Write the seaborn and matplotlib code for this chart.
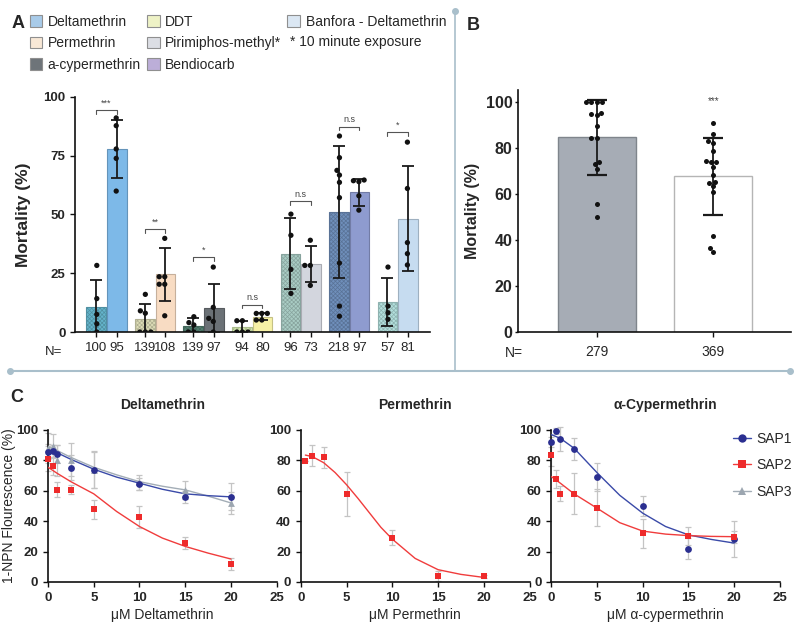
import matplotlib

matplotlib.use("Agg")
import matplotlib.pyplot as plt
import matplotlib.colors as mcolors
from matplotlib.lines import Line2D
from matplotlib.patches import Patch
import pandas as pd
import seaborn as sns

# --- Panel A: mortality per insecticide, two populations (hatched / plain bars) ---
insecticides = ["Deltamethrin", "Permethrin", "a-cypermethrin", "DDT",
                "Pirimiphos-methyl*", "Bendiocarb", "Banfora - Deltamethrin"]
populations = ["hatched", "plain"]
a_mean_hatched = [10.6, 5.4, 2.5, 2.1, 33.3, 51.0, 12.9]
a_sd_hatched = [11.4, 6.5, 3.3, 2.7, 15.0, 28.2, 10.2]
a_mean_plain = [77.8, 24.5, 10.3, 6.4, 28.8, 59.3, 48.2]
a_sd_plain = [12.2, 11.3, 10.2, 1.5, 7.7, 5.8, 22.2]
a_n_hatched = [100, 139, 139, 94, 96, 218, 57]
a_n_plain = [95, 108, 97, 80, 73, 97, 81]
a_dots_hatched = [
    [28.3, 14.2, 7.5, 3.5, 0],
    [16.0, 9.0, 8.0, 0, 0, 0],
    [6.5, 4.0, 3.0, 0, 0],
    [4.8, 4.8, 0, 0, 0],
    [50.1, 41.1, 26.6, 16.4],
    [83.3, 74.1, 68.7, 66.7, 63.6, 57.1, 29.3, 11.0, 6.7],
    [27.6, 11.0, 8.2, 5.4],
]
a_dots_plain = [
    [91.0, 87.7, 77.8, 73.8, 59.9],
    [39.8, 23.5, 23.5, 20.3, 20.3, 6.9],
    [27.6, 10.5, 5.8, 4.5, 0],
    [7.9, 7.9, 7.9, 5.1, 5.1],
    [39.0, 28.3, 28.3, 19.8],
    [64.6, 64.3, 63.9, 57.9, 51.8],
    [80.7, 61.0, 38.0, 33.3, 28.5],
]
a_sig = ["***", "**", "*", "n.s", "n.s", "n.s", "*"]
a_sig_y = [94.3, 43.8, 31.7, 11.6, 55.7, 87.3, 85.0]

# --- Panel B ---
b_n = ["279", "369"]
b_mean = [84.4, 67.5]
b_sd = [16.3, 16.6]
b_dots = [
    [100, 100, 100, 100, 94.6, 95.2, 94.2, 89.6, 84.2, 84.2, 73.7, 72.8, 70.8, 55.6, 50.0],
    [90.6, 85.8, 81.9, 82.7, 78.6, 73.7, 74.3, 73.7, 71.8, 68.2, 65.2, 64.5, 63.2,
     60.7, 41.8, 36.4, 34.7],
]

# --- Panel C: 1-NPN displacement ---
conc = [0, 0.5, 1, 2.5, 5, 10, 15, 20]
conc_perm = [0.5, 1.2, 2.5, 5, 10, 15, 20]
fit_x = [0, 1, 2.5, 5, 7.5, 10, 12.5, 15, 17.5, 20]
fit_x_perm = [0.5, 1.25, 2.5, 3.75, 5, 6.25, 7.5, 8.75, 10, 12.5, 15, 17.5, 20]

delta_sap1 = [85.8, 86.2, 84.2, 75.3, 73.7, 64.6, 55.8, 56.2]
delta_sap1_sd = [5, 4, 6, 8, 12, 4, 4, 9]
delta_sap2 = [81.2, 76.4, 60.6, 60.6, 47.7, 42.7, 25.8, 11.8]
delta_sap2_sd = [8, 6, 5, 3, 6, 7, 4, 4]
delta_sap3 = [88.0, 89.5, 80.0, 80.5, 74.0, 65.5, 60.5, 52.0]
delta_sap3_sd = [10, 8, 10, 11, 12, 5, 6, 7]
delta_fit1 = [87.0, 85.0, 80.7, 74.2, 69.0, 65.0, 61.0, 58.0, 56.8, 56.0]
delta_fit2 = [75.5, 71.5, 66.0, 58.0, 46.4, 36.5, 28.9, 23.4, 19.0, 15.1]
delta_fit3 = [89.0, 86.5, 82.0, 75.5, 70.5, 66.0, 63.0, 60.6, 56.5, 52.0]

perm_sap2 = [79.6, 83.2, 82.1, 57.8, 29.1, 3.9, 3.7]
perm_sap2_sd = [0, 6.7, 7, 14.3, 5, 3, 1]
perm_fit2 = [83.5, 82.5, 78.5, 72.0, 64.0, 55.0, 45.5, 36.0, 28.2, 15.5, 8.1, 5.0, 3.0]

cyp_sap1 = [92.1, 99.6, 94.1, 87.5, 69.1, 50.1, 21.9, 28.2]
cyp_sap1_sd = [3, 2, 8, 7.4, 9, 6.6, 7, 12]
cyp_sap2 = [83.6, 67.8, 58.2, 58.2, 49.0, 31.9, 30.4, 29.5]
cyp_sap2_sd = [7, 6, 5, 13.7, 12, 9.5, 6, 4]
cyp_fit1 = [97.0, 94.5, 88.0, 72.0, 57.0, 45.3, 36.5, 31.0, 28.0, 25.6]
cyp_fit2 = [69.4, 65.0, 58.0, 48.6, 39.0, 33.5, 31.5, 30.5, 30.0, 29.8]

# colours
hatched_colors = ["#64b4cb", "#dcdcb6", "#537f70", "#d6ebb0", "#a9ccc4", "#6f8fbb", "#b2dfdc"]
plain_colors = ["#7db9e8", "#f8dcc3", "#6b7176", "#f6f1a6", "#d3d6de", "#8e9bcf", "#c6dcf0"]
legend_colors = ["#a8cbe9", "#f8e8d6", "#6e7479", "#eef2c6", "#dcdee4", "#bcaed8", "#dbe7f3"]
sap_colors = {"SAP1": "#2b2f90", "SAP2": "#ee2b2b", "SAP3": "#9ca6b0"}
fit_colors = {"SAP1": "#3a4aa8", "SAP2": "#f03c3c", "SAP3": "#a3adb6"}
sap_markers = {"SAP1": "o", "SAP2": "s", "SAP3": "^"}
err_color = "#c4c4c4"
sep_color = "#a9bfcb"


def darker(c, f=0.78):
    r, g, b = mcolors.to_rgb(c)
    return (r * f, g * f, b * f)


def style_axis(ax, size):
    for s in ("left", "bottom"):
        ax.spines[s].set_linewidth(1.2)
        ax.spines[s].set_color("#111111")
    ax.tick_params(axis="both", direction="out", length=3.5, width=1.0, color="#111111",
                   labelsize=size)


def panel_c(ax, title, xlabel, points, fits, fx):
    for name, (x, y, sd) in points.items():
        ax.errorbar(x, y, yerr=sd, fmt="none", ecolor=err_color, elinewidth=0.9,
                    capsize=2.2, capthick=0.9, zorder=2, clip_on=False)
    for name, fy in fits.items():
        sns.lineplot(x=fx, y=fy, color=fit_colors[name], lw=1.0, ax=ax, zorder=3)
    for name, (x, y, sd) in points.items():
        sns.scatterplot(x=x, y=y, marker=sap_markers[name], color=sap_colors[name], s=24,
                        linewidth=0, ax=ax, zorder=4, clip_on=False)
    ax.set_xlim(0, 25)
    ax.set_ylim(0, 100)
    ax.set_xticks([0, 5, 10, 15, 20, 25])
    ax.set_yticks([0, 20, 40, 60, 80, 100])
    sns.despine(ax=ax)
    style_axis(ax, 9.5)
    for lab in ax.get_xticklabels() + ax.get_yticklabels():
        lab.set_fontweight("bold")
    ax.set_xlabel(xlabel, fontsize=10)
    ax.xaxis.set_label_coords(0.5, -0.17)
    ax.set_ylabel("")
    ax.text(0.5, 1.165, title, transform=ax.transAxes, ha="center", va="center",
            fontsize=10, fontweight="bold")


def main():
    sns.set_theme(style="ticks")
    plt.rcParams["font.family"] = ["Liberation Sans", "DejaVu Sans"]
    plt.rcParams["hatch.linewidth"] = 0.5

    fig = plt.figure(figsize=(8, 6.33), dpi=100)
    fig.patch.set_facecolor("white")

    # ---------------- Panel A ----------------
    axA = fig.add_axes([0.094, 0.4755, 0.444, 0.3717])
    df_a = pd.DataFrame({
        "insecticide": insecticides * 2,
        "pop": ["hatched"] * 7 + ["plain"] * 7,
        "mortality": a_mean_hatched + a_mean_plain,
    })
    dot_rows = []
    for i, ins in enumerate(insecticides):
        for v in a_dots_hatched[i]:
            dot_rows.append({"insecticide": ins, "pop": "hatched", "mortality": v})
        for v in a_dots_plain[i]:
            dot_rows.append({"insecticide": ins, "pop": "plain", "mortality": v})
    df_a_dots = pd.DataFrame(dot_rows)

    sns.barplot(data=df_a, x="insecticide", y="mortality", hue="pop", order=insecticides,
                hue_order=populations, errorbar=None, width=0.85, gap=0.05, legend=False,
                ax=axA)
    centers = {}
    for cont, fills, pop in zip(axA.containers, [hatched_colors, plain_colors], populations):
        cs = []
        for bar, fc in zip(cont, fills):
            bar.set_facecolor(fc)
            bar.set_edgecolor(darker(fc, 0.8))
            bar.set_linewidth(0.8)
            if pop == "hatched":
                bar.set_hatch("xxxxxxxx")
            cs.append(bar.get_x() + bar.get_width() / 2)
        centers[pop] = cs

    axA.errorbar(centers["hatched"], a_mean_hatched, yerr=a_sd_hatched, fmt="none",
                 ecolor="#1a1a1a", elinewidth=1.3, capsize=4.2, capthick=1.3, zorder=4)
    axA.errorbar(centers["plain"], a_mean_plain, yerr=a_sd_plain, fmt="none",
                 ecolor="#1a1a1a", elinewidth=1.3, capsize=4.2, capthick=1.3, zorder=4)
    sns.swarmplot(data=df_a_dots, x="insecticide", y="mortality", hue="pop",
                  order=insecticides, hue_order=populations, dodge=True,
                  palette=["#111111", "#111111"], size=3.8, legend=False, ax=axA, zorder=5)

    for k in range(len(insecticides)):
        x1, x2 = centers["hatched"][k], centers["plain"][k]
        y = a_sig_y[k]
        axA.plot([x1, x1, x2, x2], [y - 1.6, y, y, y - 1.6], color="#555555", lw=0.8)
        axA.text((x1 + x2) / 2, y + 1.0, a_sig[k], ha="center", va="bottom",
                 fontsize=6.5, color="#444444")

    ticks = []
    labels = []
    for k in range(len(insecticides)):
        ticks += [centers["hatched"][k], centers["plain"][k]]
        labels += [str(a_n_hatched[k]), str(a_n_plain[k])]
    axA.set_xticks(ticks)
    axA.set_xticklabels(labels)
    axA.set_xlim(-0.645, 6.674)
    axA.set_ylim(0, 100)
    axA.set_yticks([0, 25, 50, 75, 100])
    axA.set_xlabel("")
    sns.despine(ax=axA)
    style_axis(axA, 9.5)
    for lab in axA.get_yticklabels():
        lab.set_fontweight("bold")
    axA.set_ylabel("Mortality (%)", fontsize=12.5, fontweight="bold")
    axA.yaxis.set_label_coords(-0.125, 0.5)
    fig.text(0.056, 1 - 352 / 633, "N=", fontsize=9.5, va="center")

    # legend: 3 columns filled column-wise (3, 3, 1) plus an empty slot
    handles = [Patch(facecolor=c, edgecolor="#8f8f8f", linewidth=0.8) for c in legend_colors]
    handles.append(Patch(facecolor="none", edgecolor="none"))
    fig.legend(handles, insecticides + [""], loc="upper left", bbox_to_anchor=(0.037, 0.977),
               ncol=3, frameon=False, fontsize=10, borderpad=0, borderaxespad=0,
               handlelength=0.9, handleheight=0.9, handletextpad=0.4, columnspacing=0.45,
               labelspacing=0.55)
    fig.text(290 / 800, 1 - 42 / 633, "* 10 minute exposure", fontsize=10, va="center")

    # ---------------- Panel B ----------------
    axB = fig.add_axes([0.6475, 0.4755, 0.341, 0.3823])
    df_b = pd.DataFrame({"group": b_n, "mortality": b_mean})
    df_b_dots = pd.DataFrame({
        "group": [b_n[0]] * len(b_dots[0]) + [b_n[1]] * len(b_dots[1]),
        "mortality": b_dots[0] + b_dots[1],
    })
    sns.barplot(data=df_b, x="group", y="mortality", order=b_n, errorbar=None, width=0.67,
                ax=axB)
    b_centers = []
    for bar, fc, ec in zip(axB.containers[0], ["#a6acb5", "white"], ["#7f858c", "#b5b5b5"]):
        bar.set_facecolor(fc)
        bar.set_edgecolor(ec)
        bar.set_linewidth(1.0)
        b_centers.append(bar.get_x() + bar.get_width() / 2)
    axB.errorbar(b_centers, b_mean, yerr=b_sd, fmt="none", ecolor="#1a1a1a",
                 elinewidth=1.3, capsize=7.2, capthick=1.6, zorder=4)
    sns.swarmplot(data=df_b_dots, x="group", y="mortality", order=b_n, color="#111111",
                  size=3.6, ax=axB, zorder=5)
    axB.text(b_centers[1], 100.0, "***", ha="center", va="center", fontsize=7, color="#444444")
    axB.set_xlim(-0.675, 1.666)
    axB.set_ylim(0, 105)
    axB.set_yticks([0, 20, 40, 60, 80, 100])
    axB.set_xlabel("")
    sns.despine(ax=axB)
    style_axis(axB, 11.5)
    axB.tick_params(axis="y", length=2.5, pad=1.5)
    axB.tick_params(axis="x", labelsize=10, pad=6)
    for lab in axB.get_yticklabels():
        lab.set_fontweight("bold")
    axB.set_ylabel("Mortality (%)", fontsize=11.5, fontweight="bold")
    axB.yaxis.set_label_coords(-0.14, 0.5)
    fig.text(505 / 800, 1 - 353 / 633, "N=", fontsize=10, va="center")

    # ---------------- Panel C ----------------
    c_bottom, c_height, c_width = 0.0806, 0.2401, 0.2859
    axC1 = fig.add_axes([0.06, c_bottom, c_width, c_height])
    axC2 = fig.add_axes([0.376, c_bottom, c_width, c_height])
    axC3 = fig.add_axes([0.689, c_bottom, c_width, c_height])

    panel_c(axC1, "Deltamethrin", "\u03bcM Deltamethrin",
            {"SAP3": (conc, delta_sap3, delta_sap3_sd),
             "SAP1": (conc, delta_sap1, delta_sap1_sd),
             "SAP2": (conc, delta_sap2, delta_sap2_sd)},
            {"SAP3": delta_fit3, "SAP1": delta_fit1, "SAP2": delta_fit2}, fit_x)
    panel_c(axC2, "Permethrin", "\u03bcM Permethrin",
            {"SAP2": (conc_perm, perm_sap2, perm_sap2_sd)},
            {"SAP2": perm_fit2}, fit_x_perm)
    panel_c(axC3, "\u03b1-Cypermethrin", "\u03bcM \u03b1-cypermethrin",
            {"SAP1": (conc, cyp_sap1, cyp_sap1_sd),
             "SAP2": (conc, cyp_sap2, cyp_sap2_sd)},
            {"SAP1": cyp_fit1, "SAP2": cyp_fit2}, fit_x)
    axC1.set_ylabel("1-NPN Flourescence (%)", fontsize=10)
    axC1.yaxis.set_label_coords(-0.14, 0.5)

    leg_handles = [Line2D([], [], color=fit_colors[n], marker=sap_markers[n],
                          markerfacecolor=sap_colors[n], markeredgewidth=0, markersize=6,
                          lw=1.0) for n in ["SAP1", "SAP2", "SAP3"]]
    axC3.legend(leg_handles, ["SAP1", "SAP2", "SAP3"], loc="upper left",
                bbox_to_anchor=(0.765, 1.035), frameon=False, fontsize=10, borderpad=0,
                handlelength=1.3, handletextpad=0.4, labelspacing=0.9)

    # panel letters and separators
    fig.text(12 / 800, 1 - 24 / 633, "A", fontsize=13, fontweight="bold", va="center")
    fig.text(467 / 800, 1 - 25 / 633, "B", fontsize=13, fontweight="bold", va="center")
    fig.text(10 / 800, 1 - 398 / 633, "C", fontsize=13, fontweight="bold", va="center")
    xv = 455 / 800
    ytop, ysep = 1 - 11 / 633, 1 - 371 / 633
    fig.add_artist(Line2D([xv, xv], [ytop, ysep], transform=fig.transFigure, color=sep_color,
                          lw=1.2))
    fig.add_artist(Line2D([10 / 800, 790 / 800], [ysep, ysep], transform=fig.transFigure,
                          color=sep_color, lw=1.5))
    fig.add_artist(Line2D([xv, 10 / 800, 790 / 800], [ytop, ysep, ysep],
                          transform=fig.transFigure, color=sep_color, lw=0, marker="o",
                          markersize=4))

    fig.savefig("out.png", dpi=100)
    plt.close(fig)


if __name__ == "__main__":
    main()
